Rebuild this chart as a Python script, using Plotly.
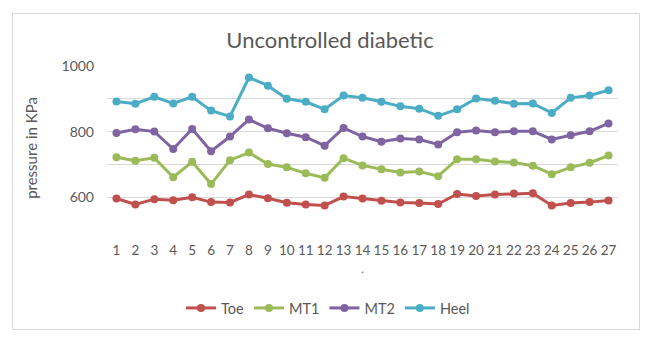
import plotly.graph_objects as go

categories = [str(i) for i in range(1, 28)]
toe = [596, 578, 594, 591, 600, 585, 584, 608, 597, 583, 578, 575, 602, 596, 589, 584, 582, 579, 610, 604, 608, 611, 612, 575, 582, 585, 590]
mt1 = [722, 711, 720, 661, 708, 640, 713, 736, 701, 691, 673, 659, 719, 697, 685, 675, 678, 664, 716, 716, 709, 706, 696, 670, 691, 705, 727]
mt2 = [796, 807, 800, 747, 808, 740, 785, 837, 810, 795, 783, 757, 811, 785, 769, 779, 776, 761, 798, 803, 798, 801, 801, 776, 789, 801, 825]
heel = [892, 885, 906, 886, 906, 864, 846, 965, 940, 900, 891, 868, 910, 903, 891, 877, 870, 848, 868, 901, 894, 885, 886, 857, 903, 910, 926]

series = [("Toe", toe, "#C0504D"), ("MT1", mt1, "#9BBB59"), ("MT2", mt2, "#8064A2"), ("Heel", heel, "#4BACC6")]
y_tickvals = [500, 600, 700, 800, 900, 1000]
y_ticktext = ["", "600", "", "800", "", "1000"]

FONT = "Lato, 'Liberation Sans', sans-serif"
GRAY = "#595959"

fig = go.Figure()
for name, vals, color in series:
    fig.add_trace(go.Scatter(
        x=categories, y=vals, name=name, mode="lines+markers",
        line=dict(color=color, width=3),
        marker=dict(color=color, size=8),
    ))

W, H = 648, 346
L, R, T, B = 107, 30, 66, 116
pw, ph = W - L - R, H - T - B

def px(x):
    return (x - L) / pw

def py(y):
    return (H - B - y) / ph

fig.update_layout(
    width=W, height=H,
    margin=dict(l=L, r=R, t=T, b=B),
    paper_bgcolor="white", plot_bgcolor="white",
    font=dict(family=FONT, color=GRAY, size=13),
    title=dict(text="Uncontrolled diabetic", x=px(330), xref="paper", xanchor="center",
               y=1 - 40 / H, yanchor="middle", font=dict(size=22, color=GRAY, family=FONT)),
    xaxis=dict(type="category", range=[-0.5, 26.5], showgrid=False, showline=False,
               zeroline=False, tickfont=dict(size=13.5, color=GRAY), ticklabelstandoff=10,
               title=dict(text=".", standoff=8, font=dict(size=11, color=GRAY))),
    yaxis=dict(range=[500, 1000], tickvals=y_tickvals, ticktext=y_ticktext,
               showgrid=True, gridcolor="#D9D9D9", gridwidth=1, zeroline=False,
               showline=False, tickfont=dict(size=14, color=GRAY), ticklabelstandoff=12,
               title=dict(text="pressure in KPa", standoff=20, font=dict(size=15, color=GRAY))),
    legend=dict(orientation="h", x=px(328), xanchor="center", y=py(308), yanchor="middle",
                font=dict(size=14.5, color=GRAY), itemwidth=30, bgcolor="rgba(0,0,0,0)"),
    showlegend=True,
)

fig.add_shape(type="rect", xref="paper", yref="paper",
              x0=px(12.5), x1=px(639.5), y0=py(329.5), y1=py(13.5),
              line=dict(color="#D9D9D9", width=1), fillcolor="rgba(0,0,0,0)", layer="below")

fig.write_html("out.html")
